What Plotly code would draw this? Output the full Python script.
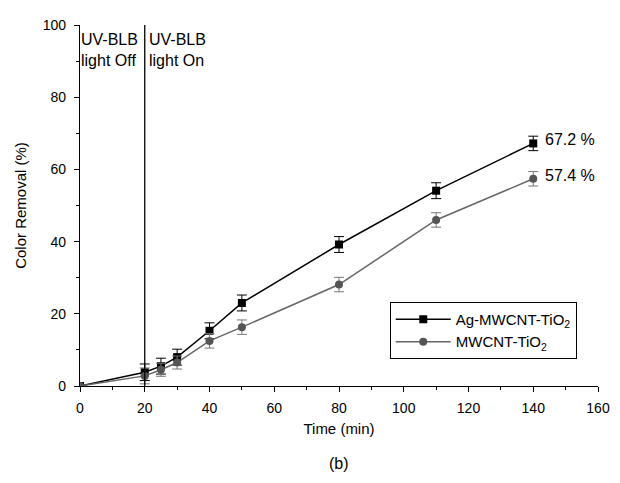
import plotly.graph_objects as go

time = [0, 20, 25, 30, 40, 50, 80, 110, 140]
ag_vals = [0, 3.8, 5.5, 8.0, 15.3, 23.0, 39.2, 54.1, 67.2]
ag_err = [0, 2.3, 2.2, 2.2, 2.2, 2.2, 2.2, 2.2, 2.0]
mw_vals = [0, 2.8, 4.5, 6.5, 12.5, 16.3, 28.1, 46.0, 57.4]
mw_err = [0, 2.2, 1.8, 1.8, 2.0, 2.0, 2.0, 2.0, 2.0]
end_labels = ["67.2 %", "57.4 %"]

font = "Liberation Sans, Arial, sans-serif"
fig = go.Figure()
fig.add_trace(go.Scatter(
    x=time, y=ag_vals, mode="lines+markers", name="Ag-MWCNT-TiO<sub>2</sub>",
    line=dict(color="black", width=1.5),
    marker=dict(symbol="square", size=8, color="black"),
    error_y=dict(type="data", array=ag_err, color="black", thickness=1, width=5),
))
fig.add_trace(go.Scatter(
    x=time, y=mw_vals, mode="lines+markers", name="MWCNT-TiO<sub>2</sub>",
    line=dict(color="#666666", width=1.5),
    marker=dict(symbol="circle", size=8, color="#555555"),
    error_y=dict(type="data", array=mw_err, color="#777777", thickness=1, width=5),
))

fig.add_shape(type="line", x0=20, x1=20, y0=0, y1=100, xref="x", yref="y",
              line=dict(color="black", width=1.3))
fig.add_annotation(x=0, y=99, xref="x", yref="y", text="UV-BLB<br>light Off",
                   showarrow=False, xanchor="left", yanchor="top", align="left",
                   font=dict(size=16, color="black", family=font), xshift=-1)
fig.add_annotation(x=20, y=99, xref="x", yref="y", text="UV-BLB<br>light On",
                   showarrow=False, xanchor="left", yanchor="top", align="left",
                   font=dict(size=16, color="black", family=font), xshift=2)
fig.add_annotation(x=140, y=ag_vals[-1], text=end_labels[0], showarrow=False,
                   xanchor="left", xshift=10, yshift=4, font=dict(size=16, color="black", family=font))
fig.add_annotation(x=140, y=mw_vals[-1], text=end_labels[1], showarrow=False,
                   xanchor="left", xshift=10, yshift=3, font=dict(size=16, color="black", family=font))
fig.add_annotation(x=0.5, y=-0.214, xref="paper", yref="paper", text="(b)", showarrow=False,
                   yanchor="middle", font=dict(size=16, color="black", family=font))

fig.update_layout(
    width=620, height=483,
    margin=dict(l=72, r=30, t=9, b=105),
    paper_bgcolor="white", plot_bgcolor="white",
    font=dict(family=font, size=14, color="black"),
    showlegend=True,
    legend=dict(x=0.598, y=0.233, xanchor="left", yanchor="top",
                bordercolor="black", borderwidth=1, bgcolor="white",
                font=dict(size=15), tracegroupgap=0, itemwidth=55,
                entrywidth=150),
    xaxis=dict(range=[0, 160], dtick=20, showgrid=False, zeroline=False,
               showline=True, linecolor="black", linewidth=1.3,
               ticks="outside", ticklen=5, tickcolor="black", ticklabelstandoff=4,
               minor=dict(dtick=10, ticks="outside", ticklen=3, tickcolor="black"),
               title=dict(text="Time (min)", font=dict(size=15), standoff=8)),
    yaxis=dict(range=[0, 100], dtick=20, showgrid=False, zeroline=False,
               showline=True, linecolor="black", linewidth=1.3,
               ticks="outside", ticklen=5, tickcolor="black", ticklabelstandoff=5,
               minor=dict(dtick=10, ticks="outside", ticklen=3, tickcolor="black"),
               title=dict(text="Color Removal (%)", font=dict(size=15), standoff=12)),
)
fig.write_html("out.html")
